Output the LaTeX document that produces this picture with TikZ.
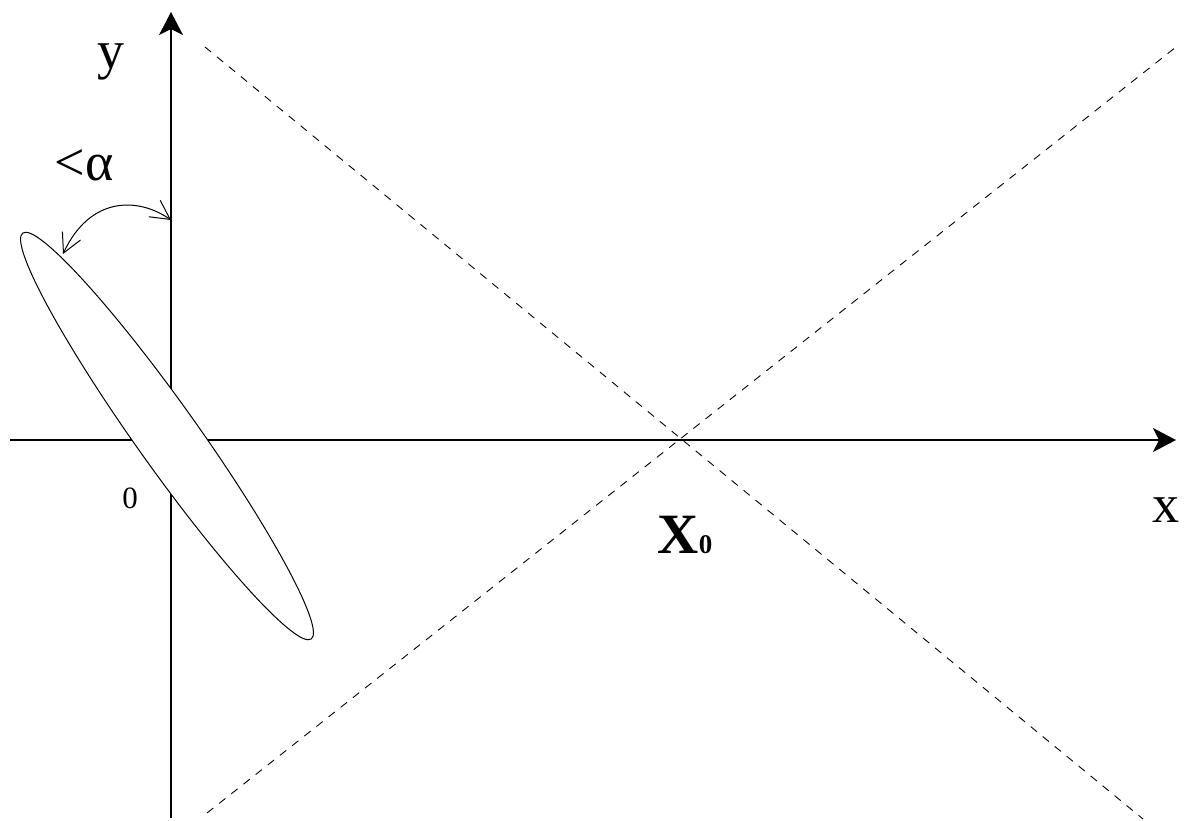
\documentclass[tikz,border=0pt]{standalone}
\usepackage{fontspec}
\setmainfont{Liberation Serif}
\usetikzlibrary{arrows.meta,shapes.geometric}
\begin{document}
\begin{tikzpicture}[x=1pt,y=-1pt,
  axis/.style={line width=1.3pt,-{Stealth[length=23pt,width=24pt,inset=6pt]}},
  guide/.style={line width=0.9pt,dash pattern=on 8pt off 7.5pt},
  angarrow/.style={line width=1pt,{Straight Barb[length=19pt,width=20pt]}-{Straight Barb[length=19pt,width=20pt]}},
  lbl/.style={inner sep=0pt,anchor=base,font=\fontsize{54}{60}\selectfont}]
\useasboundingbox (0,0) rectangle (1193,820);
% axes
\coordinate (xs) at (10,440);
\coordinate (xe) at (1176,440);
\coordinate (ys) at (171,818);
\coordinate (ye) at (171,12);
\draw[axis] (xs) -- (xe);
\draw[axis] (ys) -- (ye);
% dashed guide lines
\coordinate (d1a) at (205,47);
\coordinate (d1b) at (1143,819);
\coordinate (d2a) at (207,813);
\coordinate (d2b) at (1176,47);
\draw[guide] (d1a) -- (d1b);
\draw[guide] (d2a) -- (d2b);
% ellipse
\node[ellipse,draw,fill=white,line width=1pt,inner sep=0pt,
  minimum width=498pt,minimum height=62pt,rotate=-54.6] (ell) at (167,436) {};
% angle arrow
\coordinate (angE) at (63,254);
\coordinate (angY) at (171,220);
\draw[angarrow] (angE) .. controls (90,196) and (138,197) .. (angY);
% labels
\node[lbl] (ylab) at (111,68) {y};
\node[lbl] (xlab) at (1166,522) {x};
\node[lbl] (alab) at (84,180) {<α};
\node[inner sep=0pt,anchor=base,font=\fontsize{31}{36}\selectfont] (zero) at (130,508) {0};
\node[inner sep=0pt,anchor=base] (x0) at (685,553) {\fontsize{57}{60}\selectfont\bfseries X\fontsize{27}{30}\selectfont 0};
\end{tikzpicture}
\end{document}
